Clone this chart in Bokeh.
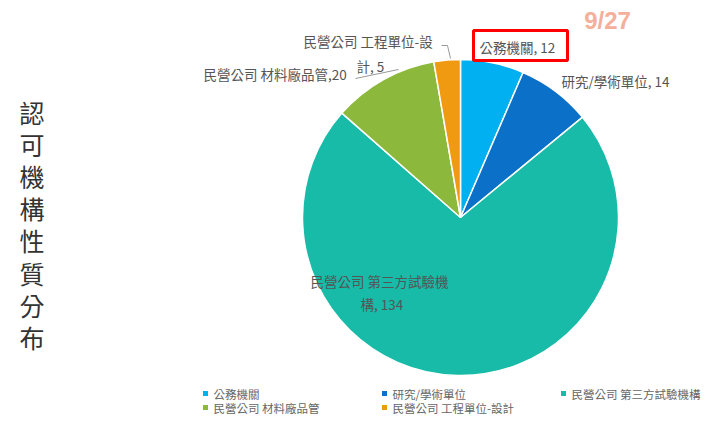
import math
import numpy as np
from bokeh.plotting import figure
from bokeh.models import Range1d
from bokeh.core.properties import value
from bokeh.embed import file_html
from bokeh.resources import INLINE

# ---- data ----
categories = ["公務機關", "研究/學術單位", "民營公司 第三方試驗機構", "民營公司 材料廠品管", "民營公司 工程單位-設計"]
counts = [12, 14, 134, 20, 5]
colors = ["#00B0F0", "#0A70C8", "#17BBA8", "#8CB83C", "#F09A12"]
slice_labels = [["公務機關, 12"], ["研究/學術單位, 14"], ["民營公司 第三方試驗機", "構, 134"],
                ["民營公司 材料廠品管,20"], ["民營公司 工程單位-設", "計, 5"]]
title_text = "認可機構性質分布"
badge_text = "9/27"

W, H = 710, 426
FONT = "Noto Sans CJK TC"

def Y(py):  # screen y -> data y
    return H - py

def X(px):
    return px

p = figure(width=W, height=H, output_backend="svg", toolbar_location=None,
           x_range=Range1d(0, W), y_range=Range1d(0, H), min_border=0)
p.axis.visible = False
p.grid.visible = False
p.outline_line_color = None
p.background_fill_color = "white"

# ---- pie ----
vals = np.array(counts, dtype=float)
frac = vals / vals.sum()
cum = np.concatenate([[0], np.cumsum(frac)])
starts = [math.pi / 2 - 2 * math.pi * cum[i + 1] for i in range(len(vals))]
ends = [math.pi / 2 - 2 * math.pi * cum[i] for i in range(len(vals))]
cx, cy, r = X(460), Y(217), 158
p.wedge(x=[cx] * len(vals), y=[cy] * len(vals), radius=r, radius_units="screen",
        start_angle=starts, end_angle=ends, fill_color=colors,
        line_color="white", line_width=1.5)

# ---- slice labels (layout positions) ----
label_pos = [[(479, 46)], [(561, 80)], [(310, 280), (360, 303)], [(203, 73)], [(303, 40), (356, 65)]]
for lines, poss in zip(slice_labels, label_pos):
    for t, (px, py) in zip(lines, poss):
        p.text(x=[X(px)], y=[Y(py)], text=[t], text_font=value(FONT), text_font_size="13.5px",
               text_color="#555555", text_baseline="middle", text_align="left")

# leader lines
p.line(x=[X(441), X(447), X(450)], y=[Y(45), Y(45), Y(58)], line_color="#999999", line_width=1)
p.line(x=[X(355), X(398)], y=[Y(78), Y(69)], line_color="#999999", line_width=1)

# red highlight box
p.quad(left=[X(473)], right=[X(567)], top=[Y(30)], bottom=[Y(60)], fill_color=None,
       line_color="#FF0000", line_width=3)

# badge
p.text(x=[X(607)], y=[Y(20)], text=[badge_text], text_font=value("Liberation Sans"),
       text_font_size="24px", text_font_style="bold", text_color="#F4B09A",
       text_align="center", text_baseline="middle")

# vertical title
chars = list(title_text)
for i, ch in enumerate(chars):
    p.text(x=[X(31.5)], y=[Y(111.5 + i * 32.1)], text=[ch], text_font=value(FONT),
           text_font_size="25px", text_color="#333333", text_align="center", text_baseline="middle")

# legend (manual, 3 columns)
col_x = [205, 384, 563]
row_y = [393, 407]
for i, (cat, col) in enumerate(zip(categories, colors)):
    cx_ = col_x[i % 3]
    cy_ = row_y[i // 3]
    p.scatter(x=[X(cx_)], y=[Y(cy_)], marker="square", size=5, fill_color=col, line_color=None)
    p.text(x=[X(cx_ + 8)], y=[Y(cy_)], text=[cat], text_font=value(FONT), text_font_size="11.5px",
           text_color="#666666", text_align="left", text_baseline="middle")

open("out.html", "w").write(file_html(p, INLINE))
